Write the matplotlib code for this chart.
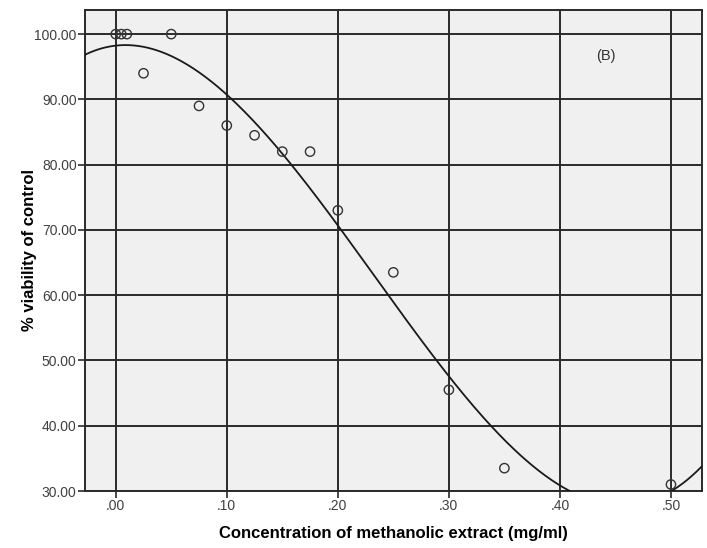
import numpy as np
import matplotlib
matplotlib.use("Agg")
import matplotlib.pyplot as plt

# concentration (mg/ml) and % viability
conc = [0.0, 0.005, 0.01, 0.025, 0.05, 0.075, 0.10, 0.125, 0.15, 0.175, 0.20, 0.25, 0.30, 0.35, 0.50]
viability = [100.0, 100.0, 100.0, 94.0, 100.0, 89.0, 86.0, 84.5, 82.0, 82.0, 73.0, 63.5, 45.5, 33.5, 31.0]

x_ticks = [0.0, 0.1, 0.2, 0.3, 0.4, 0.5]
x_labels = [".00", ".10", ".20", ".30", ".40", ".50"]
y_ticks = [30, 40, 50, 60, 70, 80, 90, 100]
y_labels = ["%.2f" % v for v in y_ticks]

plt.rcParams['font.family'] = ['Liberation Sans', 'DejaVu Sans']

fig = plt.figure(figsize=(7.07, 5.48), dpi=100)
ax = fig.add_axes([0.1202, 0.104, 0.8728, 0.8778])
ax.set_facecolor('#f0f0f0')

# cubic fit line through the points
coef = np.polyfit(conc, viability, 3)
xs = np.linspace(-0.03, 0.53, 400)
ax.plot(xs, np.polyval(coef, xs), color='#1a1a1a', lw=1.3, zorder=3)

ax.scatter(conc, viability, s=45, facecolors='none', edgecolors='#333333', linewidths=1.0, zorder=4)

ax.set_xlim(-0.0277, 0.528)
ax.set_ylim(30, 103.7)
ax.set_xticks(x_ticks)
ax.set_xticklabels(x_labels)
ax.set_yticks(y_ticks)
ax.set_yticklabels(y_labels)
ax.grid(True, color='#2a2a2a', lw=1.4)
ax.set_axisbelow(True)
ax.tick_params(labelsize=10, labelcolor='#404040', length=5, width=1.2, color='#2a2a2a', pad=1)
for s in ax.spines.values():
    s.set_color('#2a2a2a')
    s.set_linewidth(1.4)

ax.set_xlabel("Concentration of methanolic extract (mg/ml)", fontsize=12, fontweight='bold', labelpad=9)
ax.set_ylabel("% viability of control", fontsize=12, fontweight='bold', labelpad=-2)
ax.text(0.441, 96.6, "(B)", fontsize=10.5, color='#333333', ha='center', va='center')

fig.savefig("out.png", dpi=100)
